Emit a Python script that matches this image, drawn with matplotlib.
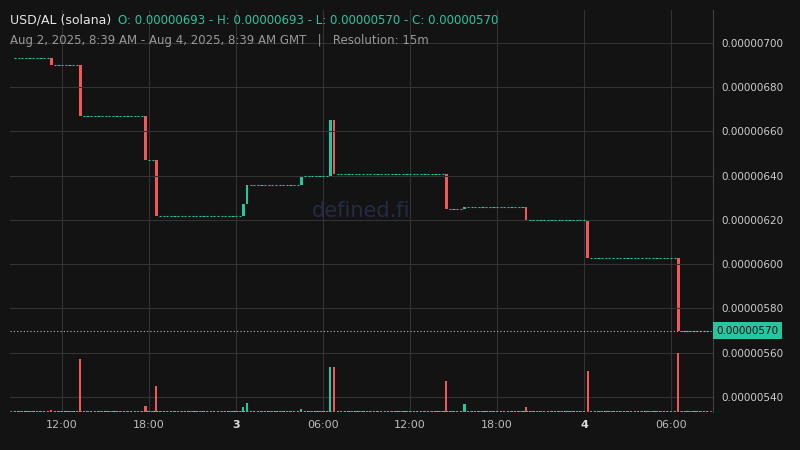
import matplotlib
matplotlib.use("Agg")
import matplotlib.pyplot as plt
import numpy as np

# price in units of 1e-8
start_price = 693
change_idx = [10, 18, 36, 39, 63, 64, 79, 87, 88, 119, 124, 141, 158, 183]
change_close = [690, 667, 647, 622, 627, 636, 640, 665, 641, 625, 626, 620, 603, 570]
n_candles = 192
vol_idx = [18, 36, 39, 63, 64, 79, 87, 88, 119, 124, 141, 158, 183, 10, 100]
vol_val = [53, 6, 26, 5, 9, 3, 45, 45, 31, 8, 5, 41, 59, 2, 1]
tick_pos = [13, 37, 61, 85, 109, 133, 157, 181]
tick_lab = ["12:00", "18:00", "3", "06:00", "12:00", "18:00", "4", "06:00"]
price_ticks = [540, 560, 580, 600, 620, 640, 660, 680, 700]

GREEN = "#26c6a0"; RED = "#f0595a"; BG = "#131313"
opens = np.zeros(n_candles); closes = np.zeros(n_candles)
p = start_price
cmap = dict(zip(change_idx, change_close))
for i in range(n_candles):
    opens[i] = p
    if i in cmap:
        p = cmap[i]
    closes[i] = p

fig = plt.figure(figsize=(8, 4.5), dpi=100, facecolor=BG)
ax = fig.add_axes([0.0125, 0.0844, 0.8788, 0.8934], facecolor=BG)
ax.set_xlim(-1.4, 192.6)
ax.set_ylim(533.2, 714.9)
for i in range(n_candles):
    o, c = opens[i], closes[i]
    if o == c:
        ax.hlines(o, i - 0.3, i + 0.3, color=GREEN, lw=0.8)
    else:
        col = GREEN if c > o else RED
        ax.bar(i, abs(c - o), bottom=min(o, c), width=0.7, color=col, lw=0)

vax = ax.twinx()
vax.set_ylim(0, 402)
vax.set_yticks([])
for s in vax.spines.values():
    s.set_visible(False)
for i in range(n_candles):
    v = vol_val[vol_idx.index(i)] if i in vol_idx else 0.6
    col = GREEN if closes[i] >= opens[i] else RED
    vax.bar(i, v, width=0.6, color=col, lw=0)

ax.set_xticks(tick_pos)
ax.set_xticklabels(tick_lab, color="#bbbbbb", fontsize=8)
for t, l in zip(ax.get_xticklabels(), tick_lab):
    if l in ("3", "4"):
        t.set_fontweight("bold"); t.set_color("#dddddd")
ax.yaxis.tick_right()
ax.set_yticks(price_ticks)
ax.set_yticklabels(["0.%08d" % v for v in price_ticks], color="#cccccc", fontsize=7.5)
ax.tick_params(length=0, pad=6)
ax.grid(color="#333333", lw=0.8)
for s in ["top", "left", "bottom"]:
    ax.spines[s].set_visible(False)
ax.spines["right"].set_color("#444444")
ax.axhline(570, color="#bbbbbb", ls=(0, (1, 2)), lw=0.8)
ax.axhline(533.6, color="#bbbbbb", ls=(0, (1, 2)), lw=0.8)
ax.text(1.005, (570 - 533.2) / (714.9 - 533.2), "0.00000570", transform=ax.transAxes,
        ha="left", va="center", fontsize=7.5, color="#111111",
        bbox=dict(boxstyle="square,pad=0.35", fc=GREEN, ec="none"))
ax.text(0.5, 0.5, "defined.fi", transform=ax.transAxes, ha="center", va="center",
        fontsize=15, color="#252a45")

fig.text(0.0125, 0.955, "USD/AL (solana)", color="#e6e6e6", fontsize=9, va="center")
fig.text(0.148, 0.955, "O: 0.00000693 - H: 0.00000693 - L: 0.00000570 - C: 0.00000570",
         color=GREEN, fontsize=8.5, va="center")
fig.text(0.0125, 0.91, "Aug 2, 2025, 8:39 AM - Aug 4, 2025, 8:39 AM GMT   |   Resolution: 15m",
         color="#999999", fontsize=8.5, va="center")
fig.savefig("out.png", dpi=100, facecolor=BG)
